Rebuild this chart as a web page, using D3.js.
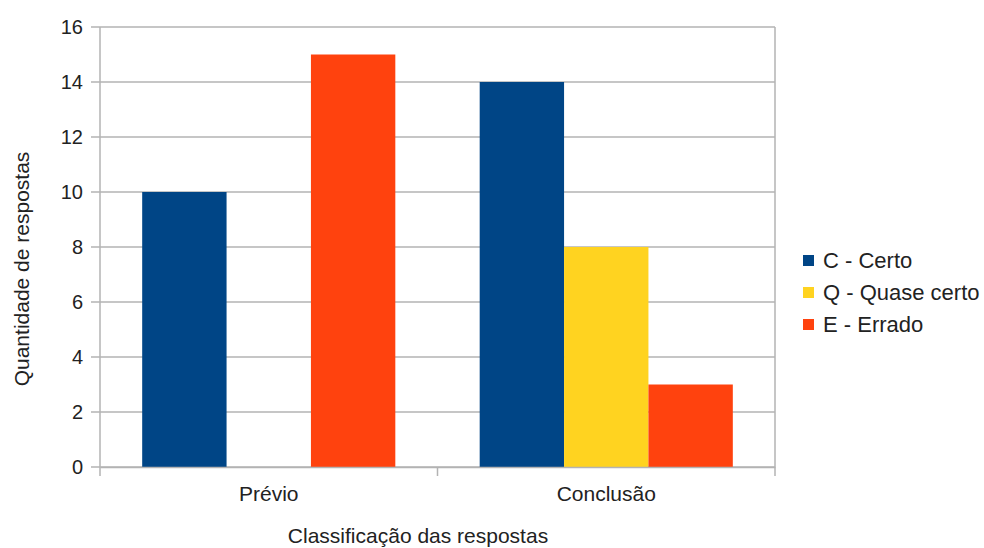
<!DOCTYPE html>
<html lang="pt">
<head>
<meta charset="UTF-8">
<script src="https://cdn.jsdelivr.net/npm/d3@7"></script>
<style>
    body { margin: 0; background: #fff; }
    svg text { font-family: "Liberation Sans", Arial, sans-serif; fill: #222; }
    .grid line { stroke: #b3b3b3; stroke-width: 1.5; }
</style>
</head>
<body>
<div id="chart"></div>
<script>
    const categories = ["Prévio", "Conclusão"];
    const seriesNames = ["C - Certo", "Q - Quase certo", "E - Errado"];
    const seriesColors = ["#004586", "#ffd320", "#ff420e"];
    const valuesC = [10, 14];
    const valuesQ = [0, 8];
    const valuesE = [15, 3];
    const yTicks = [0, 2, 4, 6, 8, 10, 12, 14, 16];

    const width = 984, height = 548;
    const plot = { left: 100, right: 775, top: 27, bottom: 467 };
    const fontSize = 21;

    const series = [valuesC, valuesQ, valuesE];

    const svg = d3.select("#chart").append("svg")
        .attr("width", width)
        .attr("height", height);

    const x = d3.scaleBand()
        .domain(categories)
        .range([plot.left, plot.right]);

    const xInner = d3.scaleBand()
        .domain(seriesNames)
        .range([0, x.bandwidth()])
        .paddingOuter(0.5);

    const y = d3.scaleLinear()
        .domain([0, 16])
        .range([plot.bottom, plot.top]);

    // horizontal grid
    svg.append("g")
        .attr("class", "grid")
        .selectAll("line")
        .data(yTicks)
        .join("line")
        .attr("x1", plot.left - 9)
        .attr("x2", plot.right)
        .attr("y1", d => y(d))
        .attr("y2", d => y(d));

    // plot frame sides
    svg.append("line")
        .attr("x1", plot.left).attr("x2", plot.left)
        .attr("y1", plot.top).attr("y2", plot.bottom + 9)
        .attr("stroke", "#b3b3b3").attr("stroke-width", 1.5);
    svg.append("line")
        .attr("x1", plot.right).attr("x2", plot.right)
        .attr("y1", plot.top).attr("y2", plot.bottom + 9)
        .attr("stroke", "#b3b3b3").attr("stroke-width", 1.5);

    // bars
    const groups = svg.append("g")
        .selectAll("g")
        .data(categories)
        .join("g")
        .attr("transform", d => `translate(${x(d)},0)`);

    groups.selectAll("rect")
        .data((c, ci) => seriesNames.map((s, si) => ({ s, si, v: series[si][ci] })))
        .join("rect")
        .filter(d => d.v > 0)
        .attr("x", d => xInner(d.s))
        .attr("width", xInner.bandwidth())
        .attr("y", d => y(d.v))
        .attr("height", d => y(0) - y(d.v))
        .attr("fill", d => seriesColors[d.si]);

    // y axis
    const yAxis = d3.axisLeft(y).tickValues(yTicks).tickSize(0).tickPadding(17);
    svg.append("g")
        .attr("transform", `translate(${plot.left},0)`)
        .call(yAxis)
        .call(g => g.select(".domain").remove())
        .selectAll("text")
        .attr("font-size", fontSize - 1)
        .style("font-family", "'Liberation Sans', Arial, sans-serif")
        .attr("fill", "#222");

    // x axis
    const xAxis = d3.axisBottom(x).tickSize(0).tickPadding(19);
    svg.append("g")
        .attr("transform", `translate(0,${plot.bottom})`)
        .call(xAxis)
        .call(g => g.select(".domain").attr("stroke", "#b3b3b3").attr("stroke-width", 1.5))
        .selectAll("text")
        .attr("font-size", fontSize)
        .style("font-family", "'Liberation Sans', Arial, sans-serif")
        .attr("fill", "#222");

    // category separator ticks
    svg.append("g")
        .selectAll("line")
        .data(categories.slice(1))
        .join("line")
        .attr("x1", d => x(d)).attr("x2", d => x(d))
        .attr("y1", plot.bottom).attr("y2", plot.bottom + 9)
        .attr("stroke", "#b3b3b3").attr("stroke-width", 1.5);

    // axis titles
    svg.append("text")
        .attr("x", 418)
        .attr("y", 543)
        .attr("text-anchor", "middle")
        .attr("font-size", fontSize)
        .text("Classificação das respostas");

    svg.append("text")
        .attr("transform", "translate(29,269) rotate(-90)")
        .attr("text-anchor", "middle")
        .attr("font-size", fontSize)
        .text("Quantidade de respostas");

    // legend
    const legend = svg.append("g")
        .attr("transform", "translate(803,260)")
        .selectAll("g")
        .data(seriesNames)
        .join("g")
        .attr("transform", (d, i) => `translate(0,${i * 32})`);

    legend.append("rect")
        .attr("x", 0).attr("y", -5)
        .attr("width", 11).attr("height", 11)
        .attr("fill", (d, i) => seriesColors[i]);

    legend.append("text")
        .attr("x", 20)
        .attr("y", 8)
        .attr("font-size", fontSize + 1)
        .text(d => d);
</script>
</body>
</html>
